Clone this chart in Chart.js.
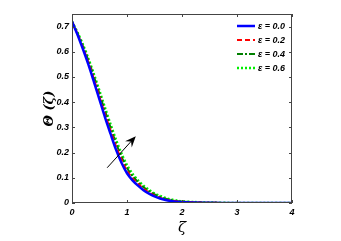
<!DOCTYPE html>
<html>
<head>
<meta charset="utf-8">
<script src="https://cdn.jsdelivr.net/npm/chart.js@4.4.0/dist/chart.umd.min.js"></script>
<style>
  html, body { margin: 0; padding: 0; background: #fff; }
  #wrap { width: 341px; height: 241px; }
</style>
</head>
<body>
<div id="wrap"><canvas id="thetaChart" width="341" height="241"></canvas></div>
<script>
// values
const zeta = [0, 0.1, 0.2, 0.3, 0.4, 0.5, 0.6, 0.7, 0.8, 0.9, 1.0, 1.1, 1.2, 1.3, 1.4, 1.5, 1.6, 1.7, 1.8, 1.9, 2.0, 2.2, 2.5, 3.0, 3.5, 4.0];
const eps00 = [0.72, 0.668, 0.61, 0.548, 0.48, 0.41, 0.34, 0.275, 0.212, 0.16, 0.118, 0.09, 0.069, 0.051, 0.037, 0.026, 0.018, 0.012, 0.008, 0.005, 0.004, 0.002, 0.001, 0, 0, 0];
const eps02 = [0.72, 0.671, 0.616, 0.556, 0.49, 0.421, 0.352, 0.288, 0.225, 0.172, 0.128, 0.098, 0.076, 0.057, 0.042, 0.03, 0.021, 0.014, 0.01, 0.007, 0.005, 0.003, 0.001, 0, 0, 0];
const eps04 = [0.72, 0.674, 0.622, 0.564, 0.5, 0.433, 0.365, 0.3, 0.238, 0.184, 0.139, 0.107, 0.083, 0.063, 0.047, 0.034, 0.024, 0.017, 0.012, 0.008, 0.006, 0.003, 0.001, 0, 0, 0];
const eps06 = [0.72, 0.677, 0.628, 0.572, 0.51, 0.445, 0.378, 0.313, 0.251, 0.196, 0.15, 0.116, 0.09, 0.069, 0.052, 0.038, 0.028, 0.02, 0.014, 0.01, 0.007, 0.004, 0.002, 0, 0, 0];
const seriesNames = ["\u03b5 = 0.0", "\u03b5 = 0.2", "\u03b5 = 0.4", "\u03b5 = 0.6"];
const xTicks = [0, 1, 2, 3, 4];
const yTicks = [0, 0.1, 0.2, 0.3, 0.4, 0.5, 0.6, 0.7];
const arrowFrom = [0.64, 0.14];
const arrowTo = [1.16, 0.265];

const tickFont = { family: "Liberation Sans, Arial, sans-serif", size: 9, weight: "bold", style: "italic" };

function pts(ys){
    return zeta.map((x, i) => ({ x: x, y: ys[i] }));
}

// box, inward ticks, legend and arrow
const extras = {
    id: "extras",
    afterDatasetsDraw(chart){
        const ctx = chart.ctx;
        const a = chart.chartArea;
        const xs = chart.scales.x, ys = chart.scales.y;
        ctx.save();
        ctx.strokeStyle = "#444";
        ctx.lineWidth = 1;
        ctx.strokeRect(a.left + 0.5, a.top + 0.5, a.right - a.left - 1, a.bottom - a.top - 1);
        ctx.beginPath();
        xTicks.forEach(v => {
            let px = Math.round(xs.getPixelForValue(v)) + 0.5;
            ctx.moveTo(px, a.bottom); ctx.lineTo(px, a.bottom - 3);
            ctx.moveTo(px, a.top); ctx.lineTo(px, a.top + 3);
        });
        yTicks.forEach(v => {
            let py = Math.round(ys.getPixelForValue(v)) + 0.5;
            ctx.moveTo(a.left, py); ctx.lineTo(a.left + 3, py);
            ctx.moveTo(a.right, py); ctx.lineTo(a.right - 3, py);
        });
        ctx.stroke();

        // legend
        let lx = 237, ly = 26;
        chart.data.datasets.forEach((ds, i) => {
            let y = ly + i * 14;
            ctx.strokeStyle = ds.borderColor;
            ctx.lineWidth = ds.borderWidth;
            ctx.setLineDash(ds.borderDash || []);
            ctx.beginPath();
            ctx.moveTo(lx, y); ctx.lineTo(lx + 18, y);
            ctx.stroke();
            ctx.setLineDash([]);
            ctx.fillStyle = "#000";
            ctx.font = "italic bold 9px Liberation Sans, Arial, sans-serif";
            ctx.textBaseline = "middle";
            ctx.fillText(ds.label, lx + 21, y + 0.5);
        });

        // arrow
        let x1 = xs.getPixelForValue(arrowFrom[0]), y1 = ys.getPixelForValue(arrowFrom[1]);
        let x2 = xs.getPixelForValue(arrowTo[0]), y2 = ys.getPixelForValue(arrowTo[1]);
        let ang = Math.atan2(y2 - y1, x2 - x1);
        ctx.strokeStyle = "#000";
        ctx.fillStyle = "#000";
        ctx.lineWidth = 1;
        ctx.beginPath();
        ctx.moveTo(x1, y1);
        ctx.lineTo(x2 - 6 * Math.cos(ang), y2 - 6 * Math.sin(ang));
        ctx.stroke();
        ctx.beginPath();
        ctx.moveTo(x2, y2);
        ctx.lineTo(x2 - 11 * Math.cos(ang) + 4.5 * Math.sin(ang), y2 - 11 * Math.sin(ang) - 4.5 * Math.cos(ang));
        ctx.lineTo(x2 - 7 * Math.cos(ang), y2 - 7 * Math.sin(ang));
        ctx.lineTo(x2 - 11 * Math.cos(ang) - 4.5 * Math.sin(ang), y2 - 11 * Math.sin(ang) + 4.5 * Math.cos(ang));
        ctx.closePath();
        ctx.fill();
        ctx.restore();
    }
};

new Chart("thetaChart", {
    type: "line",
    data: {
        datasets: [
            { label: seriesNames[0], data: pts(eps00), borderColor: "#0000ff", borderWidth: 2.5 },
            { label: seriesNames[1], data: pts(eps02), borderColor: "#ff0000", borderWidth: 2, borderDash: [5, 3] },
            { label: seriesNames[2], data: pts(eps04), borderColor: "#008000", borderWidth: 2, borderDash: [6, 2, 2, 2] },
            { label: seriesNames[3], data: pts(eps06), borderColor: "#00ee00", borderWidth: 2.5, borderDash: [2, 2] }
        ]
    },
    options: {
        responsive: false,
        animation: false,
        layout: { padding: { left: 38, right: 49, top: 14, bottom: 0 } },
        elements: { point: { radius: 0 }, line: { tension: 0.3 } },
        plugins: { legend: { display: false }, tooltip: { enabled: false } },
        scales: {
            x: {
                type: "linear", min: 0, max: 4,
                afterBuildTicks: s => { s.ticks = xTicks.map(v => ({ value: v })); },
                afterFit: s => { s.height = 38; },
                grid: { display: false, drawTicks: false },
                border: { display: false },
                ticks: { color: "#000", font: tickFont, padding: 4 },
                title: { display: true, text: "\u03b6", color: "#000", padding: { top: 5 },
                    font: { family: "DejaVu Serif, serif", size: 15, style: "italic" } }
            },
            y: {
                type: "linear", min: 0, max: 0.75,
                afterBuildTicks: s => { s.ticks = yTicks.map(v => ({ value: v })); },
                afterFit: s => { s.width = 34; },
                grid: { display: false, drawTicks: false },
                border: { display: false },
                ticks: { color: "#000", font: tickFont, padding: 3,
                    callback: v => v === 0 ? "0" : v.toFixed(1) },
                title: { display: true, text: "\u0398 (\u03b6)", color: "#000", padding: { bottom: 1 },
                    font: { family: "DejaVu Serif, serif", size: 13, style: "italic", weight: "bold" } }
            }
        }
    },
    plugins: [extras]
});
</script>
</body>
</html>
